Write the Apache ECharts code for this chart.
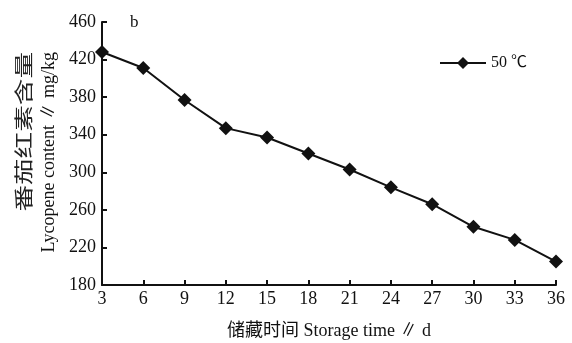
<!DOCTYPE html>
<html>
<head>
<meta charset="utf-8">
<script src="https://cdn.jsdelivr.net/npm/echarts@6/dist/echarts.min.js"></script>
<style>
  html, body { margin: 0; padding: 0; background: #fff; }
  #main { width: 572px; height: 343px; }
</style>
</head>
<body>
<div id="main"></div>
<script>
  // storage days and lycopene content (mg/kg) at 50 ℃
  var days = [3, 6, 9, 12, 15, 18, 21, 24, 27, 30, 33, 36];
  var lycopene = [428, 411, 377, 347, 337, 320, 303, 284, 266, 242, 228, 205];
  var seriesName = '50 ℃';

  var data = days.map(function (d, i) { return [d, lycopene[i]]; });

  var serif = '"Liberation Serif", "Noto Sans CJK SC", serif';
  var ink = '#111';

  var chart = echarts.init(document.getElementById('main'));
  var option = {
    backgroundColor: '#fff',
    animation: false,
    grid: { left: 102, right: 16, top: 22, bottom: 58, outerBoundsMode: 'none' },
    legend: {
      right: 40,
      top: 50,
      itemWidth: 46,
      itemHeight: 15,
      itemGap: 8,
      textStyle: { fontFamily: serif, fontSize: 16, color: ink },
      data: [seriesName]
    },
    xAxis: {
      type: 'value',
      min: 3,
      max: 36,
      interval: 3,
      name: '储藏时间 Storage time ∥ d',
      nameLocation: 'middle',
      nameGap: 37,
      nameTextStyle: { fontFamily: serif, fontSize: 18, color: ink },
      splitLine: { show: false },
      axisLine: { lineStyle: { color: ink, width: 2 } },
      axisTick: { inside: true, length: 5, lineStyle: { color: ink, width: 2 } },
      axisLabel: { fontFamily: serif, fontSize: 18, color: ink, margin: 5 }
    },
    yAxis: {
      type: 'value',
      min: 180,
      max: 460,
      interval: 40,
      splitLine: { show: false },
      axisLine: { show: true, lineStyle: { color: ink, width: 2 } },
      axisTick: { show: true, inside: true, length: 5, lineStyle: { color: ink, width: 2 } },
      axisLabel: { fontFamily: serif, fontSize: 18, color: ink, margin: 6 }
    },
    graphic: [
      {
        type: 'text', left: 130, top: 14,
        style: { text: 'b', font: '17px ' + serif, fill: ink }
      },
      {
        type: 'text', x: 26, y: 52, rotation: Math.PI / 2,
        style: { text: '番茄红素含量', font: '19px ' + serif, fill: '#222', align: 'right', verticalAlign: 'middle' },
        scaleX: 1.4
      },
      {
        type: 'text', x: 49, y: 52, rotation: Math.PI / 2,
        style: { text: 'Lycopene content ∥ mg/kg', font: '18px ' + serif, fill: ink, align: 'right', verticalAlign: 'middle' }
      }
    ],
    series: [
      {
        name: seriesName,
        type: 'line',
        data: data,
        symbol: 'diamond',
        symbolSize: 14,
        lineStyle: { color: ink, width: 2 },
        itemStyle: { color: ink }
      }
    ]
  };
  chart.setOption(option);
</script>
</body>
</html>
